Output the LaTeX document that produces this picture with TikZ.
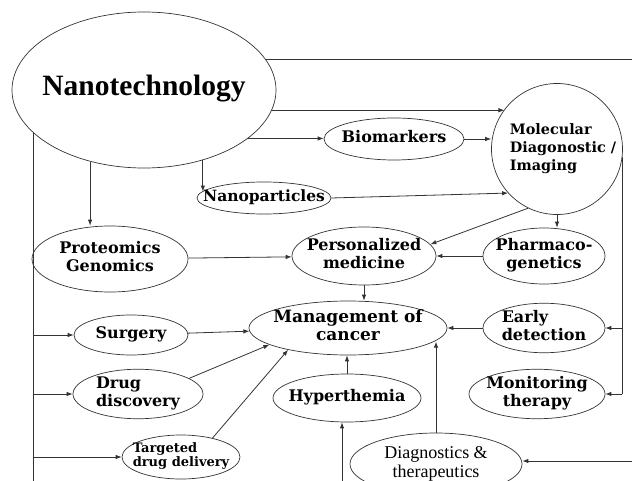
\documentclass[tikz,border=0pt]{standalone}
\usepackage{fontspec}
\setmainfont{Liberation Serif}
\newfontfamily\lblfont{DejaVu Serif}
\usetikzlibrary{shapes.geometric,arrows.meta}
\definecolor{linec}{gray}{0.2}
\newcommand{\tx}[2][c]{\makebox[0pt]{\begin{tabular}{@{}#1@{}}#2\end{tabular}}}
\tikzset{
  bub/.style={draw=linec,ellipse,line width=0.7pt,inner sep=0pt,
    font=\lblfont\bfseries\fontsize{16}{17.5}\selectfont},
  con/.style={draw=linec,line width=0.8pt},
  arr/.style={con,-{Latex[length=6pt,width=4.5pt]}}
}
\begin{document}
\begin{tikzpicture}[x=1pt,y=-1pt]
\useasboundingbox (0,0) rectangle (632,481);
\clip (0,0) rectangle (632,481);
\node[bub,minimum width=264,minimum height=156,font=\bfseries\fontsize{29.5}{30}\selectfont] (nano) at (144,90) {\tx{Nanotechnology}};
\node[bub,minimum width=140,minimum height=42] (bio) at (394,139) {\tx{Biomarkers}};
\node[bub,circle,minimum size=131,font=\lblfont\bfseries\fontsize{14.4}{18}\selectfont] (mol) at (557,149) {\hspace*{12pt}\tx[l]{Molecular\\Diagonostic /\\Imaging}};
\node[bub,minimum width=134,minimum height=32,font=\lblfont\bfseries\fontsize{15.5}{17}\selectfont] (nanop) at (264,198) {\tx{Nanoparticles}};
\node[bub,minimum width=156,minimum height=66] (prot) at (110,259) {\tx{Proteomics\\Genomics}};
\node[bub,minimum width=144,minimum height=58] (pers) at (364,256) {\tx{Personalized\\medicine}};
\node[bub,minimum width=122,minimum height=56] (pharm) at (544,256) {\tx{Pharmaco-\\genetics}};
\node[bub,minimum width=198,minimum height=54,font=\lblfont\bfseries\fontsize{17}{18}\selectfont] (mgmt) at (348,328) {\tx{Management of\\cancer}};
\node[bub,minimum width=114,minimum height=40] (surg) at (131,335) {\tx{Surgery}};
\node[bub,minimum width=122,minimum height=46] (early) at (544,328) {\tx[l]{Early\\detection}};
\node[bub,minimum width=130,minimum height=48] (drug) at (138,394) {\tx[l]{Drug\\discovery}};
\node[bub,minimum width=148,minimum height=48] (hyper) at (347,398) {\tx{Hyperthemia}};
\node[bub,minimum width=136,minimum height=48] (monit) at (537,394) {\tx{Monitoring\\therapy}};
\node[bub,minimum width=118,minimum height=44,font=\lblfont\bfseries\fontsize{13}{14}\selectfont] (targ) at (181,457) {\tx[l]{Targeted\\drug delivery}};
\node[bub,minimum width=172,minimum height=62,font=\fontsize{18}{19}\selectfont] (diag) at (436,464) {\tx{Diagnostics \&\\therapeutics}};

\coordinate (redge) at (632,0);
\coordinate (hbot) at (342,481);
\coordinate (rd) at (632,461);
\coordinate (ltop) at (nano.201);
\coordinate (rtop) at (mol.-7);

\draw[con] (nano.14) -- (nano.14 -| redge);
\draw[arr] (nano.-9) -- (nano.-9 -| mol.143);
\draw[arr] (nano.-25) -- (nano.-25 -| bio.west);
\draw[arr] (bio.east) -- (bio.east -| mol.west);
\draw[arr] (nano.-50) -- (nano.-50 |- nanop.174);
\draw[arr] (nano.233) -- (nano.233 |- prot.north);
\draw[arr] (nanop.east) -- (mol.222);
\draw[arr] (mol.south) -- (mol.south |- pharm.north);
\draw[arr] (mol.244) -- (pers.10);
\draw[arr] (pharm) -- (pers);
\draw[arr] (prot) -- (pers);
\draw[arr] (pers.south) -- (pers.south |- mgmt.north);
\draw[arr] (surg) -- (mgmt);
\draw[arr] (drug.17) -- (mgmt.192);
\draw[arr] (targ.31) -- (mgmt.200);
\draw[arr] (early) -- (mgmt);
\draw[arr] (hyper.north) -- (hyper.north |- mgmt.south);
\draw[arr] (hbot) -- (hbot |- hyper.south);
\draw[arr] (diag.north) -- (diag.north |- mgmt.-9);
\draw[arr] (rd) -- (rd -| diag.east);

\draw[con] (rtop) -- (rtop |- monit.east);
\foreach \n in {early,monit} \draw[arr] (rtop |- \n.east) -- (\n.east);
\draw[con] (ltop) -- ++(0,350);
\foreach \n in {surg,drug,targ} \draw[arr] (ltop |- \n.west) -- (\n.west);
\end{tikzpicture}
\end{document}
